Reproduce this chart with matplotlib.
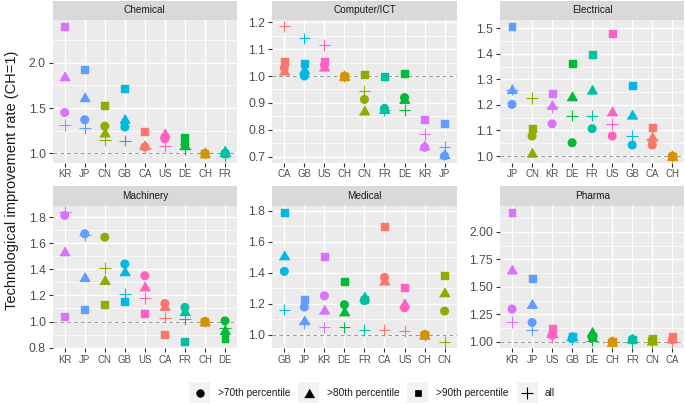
import matplotlib.pyplot as plt
from matplotlib.lines import Line2D
from matplotlib.patches import Rectangle
from matplotlib.ticker import MultipleLocator, FormatStrFormatter

plt.rcParams['font.family'] = ['Liberation Sans', 'DejaVu Sans']

# ggplot default hue palette, one colour per country
country_colors = {
    "CA": "#F8766D", "CH": "#D39200", "CN": "#93AA00", "DE": "#00BA38",
    "FR": "#00C19F", "GB": "#00B9E3", "JP": "#619CFF", "KR": "#DB72FB",
    "US": "#FF61C3",
}

chemical_countries = ["KR", "JP", "CN", "GB", "CA", "US", "DE", "CH", "FR"]
chemical_p70 = [1.45, 1.37, 1.30, 1.29, 1.07, 1.16, 1.10, 1.00, 1.00]
chemical_p80 = [1.85, 1.62, 1.23, 1.38, 1.09, 1.22, 1.09, 1.00, 1.03]
chemical_p90 = [2.40, 1.93, 1.53, 1.72, 1.24, 1.18, 1.17, 1.00, 1.00]
chemical_all = [1.31, 1.28, 1.15, 1.14, 1.06, 1.08, 1.05, 1.00, 0.97]

computer_countries = ["CA", "GB", "US", "CH", "CN", "FR", "DE", "KR", "JP"]
computer_p70 = [1.03, 1.00, 1.04, 1.00, 0.913, 0.880, 0.920, 0.735, 0.703]
computer_p80 = [1.02, 1.025, 1.035, 1.00, 0.872, 0.878, 0.915, 0.742, 0.710]
computer_p90 = [1.053, 1.048, 1.055, 1.00, 1.007, 1.00, 1.01, 0.840, 0.823]
computer_all = [1.184, 1.14, 1.115, 1.00, 0.945, 0.875, 0.875, 0.784, 0.737]

electrical_countries = ["JP", "CN", "KR", "DE", "FR", "US", "GB", "CA", "CH"]
electrical_p70 = [1.202, 1.078, 1.126, 1.052, 1.107, 1.078, 1.043, 1.043, 1.00]
electrical_p80 = [1.262, 1.013, 1.200, 1.234, 1.260, 1.175, 1.162, 1.075, 1.00]
electrical_p90 = [1.507, 1.107, 1.246, 1.363, 1.398, 1.480, 1.275, 1.110, 1.00]
electrical_all = [1.260, 1.228, 1.190, 1.158, 1.158, 1.126, 1.078, 1.068, 1.00]

machinery_countries = ["KR", "JP", "CN", "GB", "US", "CA", "FR", "CH", "DE"]
machinery_p70 = [1.813, 1.672, 1.646, 1.441, 1.351, 1.138, 1.108, 1.00, 1.005]
machinery_p80 = [1.538, 1.341, 1.318, 1.385, 1.269, 1.120, 1.080, 1.00, 0.936]
machinery_p90 = [1.038, 1.090, 1.128, 1.154, 1.059, 0.903, 0.845, 1.00, 0.867]
machinery_all = [1.838, 1.665, 1.410, 1.210, 1.180, 1.030, 1.020, 1.00, 0.950]

medical_countries = ["GB", "JP", "KR", "DE", "FR", "CA", "US", "CH", "CN"]
medical_p70 = [1.409, 1.179, 1.251, 1.194, 1.221, 1.370, 1.174, 1.00, 1.153]
medical_p80 = [1.513, 1.094, 1.162, 1.151, 1.247, 1.350, 1.204, 1.00, 1.274]
medical_p90 = [1.791, 1.230, 1.502, 1.343, 1.230, 1.700, 1.306, 1.00, 1.381]
medical_all = [1.162, 1.077, 1.047, 1.047, 1.030, 1.030, 1.026, 1.00, 0.955]

pharma_countries = ["KR", "JP", "US", "GB", "DE", "CH", "FR", "CN", "CA"]
pharma_p70 = [1.298, 1.175, 1.06, 1.03, 1.04, 1.00, 1.02, 1.02, 1.02]
pharma_p80 = [1.658, 1.345, 1.09, 1.05, 1.09, 1.00, 1.03, 1.01, 1.03]
pharma_p90 = [2.180, 1.580, 1.12, 1.05, 1.05, 1.00, 1.02, 1.03, 1.05]
pharma_all = [1.180, 1.108, 1.04, 1.02, 1.01, 1.00, 1.00, 1.00, 1.00]

series_labels = [">70th percentile", ">80th percentile", ">90th percentile", "all"]

# equilateral triangle like ggplot shape 17
tri = [(-1, -0.866), (1, -0.866), (0, 0.866)]
marker_styles = [
    dict(marker="o", s=30),
    dict(marker=tri, s=52),
    dict(marker="s", s=25),
    dict(marker="+", s=70, linewidths=0.8),
]

panels = [
    ("Chemical", chemical_countries, [chemical_p70, chemical_p80, chemical_p90, chemical_all], 0.5, "%.1f"),
    ("Computer/ICT", computer_countries, [computer_p70, computer_p80, computer_p90, computer_all], 0.1, "%.1f"),
    ("Electrical", electrical_countries, [electrical_p70, electrical_p80, electrical_p90, electrical_all], 0.1, "%.1f"),
    ("Machinery", machinery_countries, [machinery_p70, machinery_p80, machinery_p90, machinery_all], 0.2, "%.1f"),
    ("Medical", medical_countries, [medical_p70, medical_p80, medical_p90, medical_all], 0.2, "%.1f"),
    ("Pharma", pharma_countries, [pharma_p70, pharma_p80, pharma_p90, pharma_all], 0.25, "%.2f"),
]

W, H = 685, 404
fig = plt.figure(figsize=(W / 100, H / 100), dpi=100)

col_left = [52.7, 272.3, 500.0]
col_width = 184.3
row_top = [20.0, 205.7]
panel_h = 142.5
strip_h = 19.5

for i, (title, countries, series, step, fmt) in enumerate(panels):
    r, c = divmod(i, 3)
    x0, top = col_left[c], row_top[r]
    ax = fig.add_axes([x0 / W, 1 - (top + panel_h) / H, col_width / W, panel_h / H])
    ax.set_facecolor("#EBEBEB")
    for sp in ax.spines.values():
        sp.set_visible(False)

    xs = list(range(len(countries)))
    colors = [country_colors[k] for k in countries]
    ax.axhline(1.0, color="#9a9a9a", lw=0.7, ls=(0, (4, 3)), zorder=1)
    for vals, style in zip(series, marker_styles):
        ax.scatter(xs, vals, c=colors, zorder=3, **style)

    allv = [v for s in series for v in s]
    lo, hi = min(allv), max(allv)
    pad = 0.05 * (hi - lo)
    ax.set_ylim(lo - pad, hi + pad)
    ax.set_xlim(-0.6, len(countries) - 0.4)
    ax.set_xticks(xs)
    ax.set_xticklabels(countries)
    ax.yaxis.set_major_locator(MultipleLocator(step))
    ax.yaxis.set_minor_locator(MultipleLocator(step / 2))
    ax.yaxis.set_major_formatter(FormatStrFormatter(fmt))
    ax.grid(which="major", color="white", lw=1.0, zorder=0)
    ax.grid(which="minor", axis="y", color="white", lw=0.5, zorder=0)
    ax.set_axisbelow(True)
    ax.tick_params(which="major", length=3, width=0.8, color="#333333",
                   labelcolor="#4D4D4D", pad=2)
    ax.tick_params(which="minor", length=0)
    ax.tick_params(axis="y", labelsize=8.7)
    ax.tick_params(axis="x", labelsize=6.9)

    sax = fig.add_axes([x0 / W, 1 - top / H, col_width / W, strip_h / H])
    sax.set_facecolor("#D9D9D9")
    sax.set_xticks([])
    sax.set_yticks([])
    for sp in sax.spines.values():
        sp.set_visible(False)
    sax.text(0.5, 0.5, title, ha="center", va="center", size=7.2,
             color="#1A1A1A", transform=sax.transAxes)

fig.text(12 / W, 1 - 180 / H, "Technological improvement rate (CH=1)",
         rotation=90, ha="center", va="center", size=10.5, color="#1A1A1A")

# legend drawn by hand: grey key boxes with black markers
key_left = [189.3, 298.3, 407.3, 516.7]
text_left = [218.0, 326.7, 436.0, 545.0]
key_w, key_cy = 21.0, 392.5
for kx, tx, lab, style in zip(key_left, text_left, series_labels, marker_styles):
    fig.patches.append(Rectangle((kx / W, 1 - (key_cy + key_w / 2) / H), key_w / W, key_w / H,
                                 transform=fig.transFigure, facecolor="#F2F2F2",
                                 edgecolor="none"))
    ms = style["s"] ** 0.5
    fig.add_artist(Line2D([(kx + key_w / 2) / W], [1 - key_cy / H], marker=style["marker"],
                          markersize=ms, color="black", ls="none",
                          markeredgewidth=style.get("linewidths", 0.5),
                          transform=fig.transFigure))
    fig.text(tx / W, 1 - key_cy / H, lab, ha="left", va="center", size=7.3, color="#1A1A1A")

fig.savefig("out.png", dpi=100)
